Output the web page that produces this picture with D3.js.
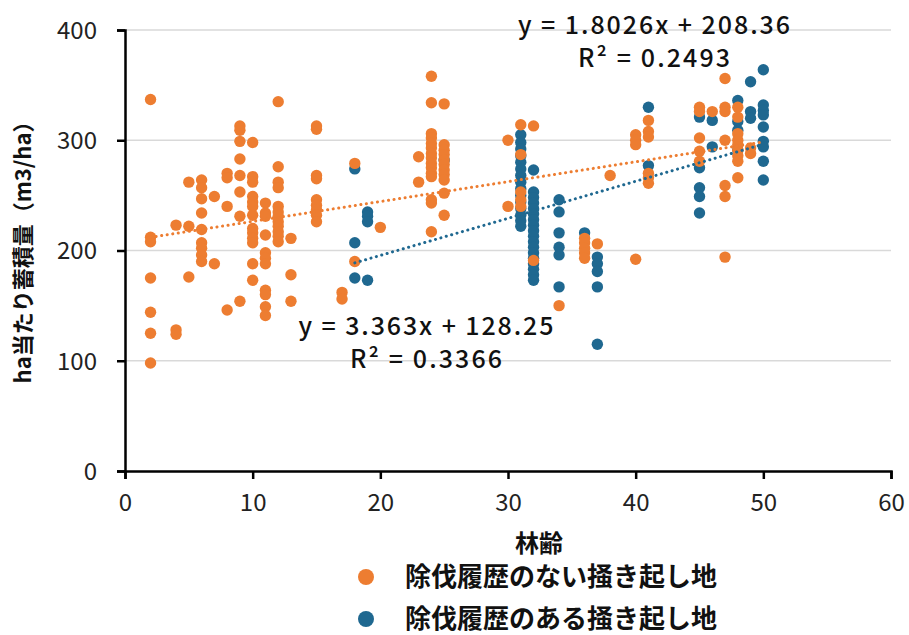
<!DOCTYPE html>
<html>
<head>
<meta charset="utf-8">
<script src="https://cdn.jsdelivr.net/npm/d3@7"></script>
<style>
  body { margin: 0; background: #fff; }
  svg text { font-family: "Noto Sans CJK JP", "Noto Sans", sans-serif; }
</style>
</head>
<body>
<div id="chart"></div>
<script>
// [林齢, 蓄積量...]
const noThinning = [
  [2, [337, 212, 208, 175, 144, 125, 98]],
  [4, [223, 128, 124]],
  [5, [262, 222, 176]],
  [6, [264, 257, 247, 234, 219, 207, 202, 196, 190]],
  [7, [249, 188]],
  [8, [270, 266, 240, 146]],
  [9, [313, 309, 299, 283, 268, 253, 231, 154]],
  [10, [298, 267, 262, 249, 244, 240, 232, 220, 216, 211, 207, 188, 173]],
  [11, [243, 234, 231, 214, 198, 193, 188, 164, 160, 149, 141]],
  [12, [335, 276, 262, 257, 240, 235, 231, 226, 222, 217, 213, 208]],
  [13, [211, 178, 154]],
  [15, [313, 310, 268, 265, 246, 241, 237, 232, 226]],
  [17, [162, 156]],
  [18, [279, 190]],
  [20, [221]],
  [23, [285, 262]],
  [24, [358, 334, 306, 302, 297, 293, 288, 284, 279, 275, 270, 267, 246, 243, 217]],
  [25, [333, 296, 291, 287, 282, 278, 273, 269, 264, 252, 232]],
  [30, [300, 240]],
  [31, [314, 287, 253, 246, 240]],
  [32, [313, 191]],
  [34, [150]],
  [36, [211, 207, 202, 198, 193]],
  [37, [206]],
  [38, [268]],
  [40, [305, 300, 296, 192]],
  [41, [318, 308, 303, 270, 266, 261]],
  [45, [330, 326, 302, 290, 281]],
  [46, [326]],
  [47, [356, 330, 326, 300, 259, 249, 194]],
  [48, [330, 321, 306, 300, 296, 291, 286, 281, 266]],
  [49, [293, 288]]
];

const withThinning = [
  [18, [274, 207, 175]],
  [19, [235, 231, 226, 173]],
  [25, [282]],
  [31, [305, 298, 292, 286, 280, 274, 268, 262, 256, 250, 244, 238, 232, 227, 222]],
  [32, [273, 253, 248, 243, 238, 233, 228, 223, 218, 213, 208, 203, 198, 193, 188, 183, 178, 173]],
  [34, [246, 235, 216, 203, 196, 167]],
  [36, [216]],
  [37, [194, 188, 181, 167, 115]],
  [41, [330, 277]],
  [45, [321, 275, 257, 249, 234]],
  [46, [318, 294]],
  [48, [336, 317, 309, 291]],
  [49, [353, 326, 320]],
  [50, [364, 332, 327, 323, 312, 299, 294, 281, 264]]
];

// 近似直線 [傾き, 切片, 開始, 終了]
const trendNo = [1.8026, 208.36, 2, 50];
const trendWith = [3.363, 128.25, 18, 50];

const xTicks = [0, 10, 20, 30, 40, 50, 60];
const yTicks = [0, 100, 200, 300, 400];

const legendLabels = ["除伐履歴のない掻き起し地", "除伐履歴のある掻き起し地"];
const eqLabels = [
  ["y = 1.8026x + 208.36", "R² = 0.2493"],
  ["y = 3.363x + 128.25", "R² = 0.3366"]
];

const colors = ["#ed7d31", "#1f6890"];

const width = 909, height = 635;
const svg = d3.select("#chart").append("svg")
  .attr("width", width)
  .attr("height", height);

const x = d3.scaleLinear().domain([0, 60]).range([125, 891]);
const y = d3.scaleLinear().domain([0, 400]).range([471, 30]);

// grid
svg.append("g")
  .selectAll("line")
  .data(yTicks.filter((d) => d > 0))
  .enter()
  .append("line")
  .attr("x1", x(0))
  .attr("x2", x(60))
  .attr("y1", (d) => y(d))
  .attr("y2", (d) => y(d))
  .attr("stroke", "#d9d9d9")
  .attr("stroke-width", 1.5);

// axes
const xAxis = svg.append("g")
  .attr("transform", `translate(0, ${y(0)})`)
  .call(d3.axisBottom(x).tickValues(xTicks).tickSize(8).tickPadding(18));

const yAxis = svg.append("g")
  .attr("transform", `translate(${x(0)}, 0)`)
  .call(d3.axisLeft(y).tickValues(yTicks).tickSize(8).tickPadding(20));

[xAxis, yAxis].forEach((g) => {
  g.select(".domain").attr("stroke", "#000").attr("stroke-width", 2.5);
  g.selectAll(".tick line").attr("stroke", "#000").attr("stroke-width", 2.5);
  g.selectAll(".tick text")
    .attr("fill", "#222")
    .style("font-size", "24px")
    .style("font-family", "'Noto Sans CJK JP', sans-serif");
});
yAxis.selectAll(".tick text").attr("dy", "0.35em");
xAxis.selectAll(".tick text").attr("dy", "0.6em");

// points
function flat(series) {
  const out = [];
  series.forEach(([age, vals]) => vals.forEach((v) => out.push({ age, v })));
  return out;
}

[[withThinning, colors[1]], [noThinning, colors[0]]].forEach(([series, c]) => {
  svg.append("g")
    .selectAll("circle")
    .data(flat(series))
    .enter()
    .append("circle")
    .attr("cx", (d) => x(d.age))
    .attr("cy", (d) => y(d.v))
    .attr("r", 5.7)
    .attr("fill", c);
});

// trend lines
[[trendNo, colors[0]], [trendWith, colors[1]]].forEach(([t, c]) => {
  const [a, b, x0, x1] = t;
  svg.append("line")
    .attr("x1", x(x0))
    .attr("y1", y(a * x0 + b))
    .attr("x2", x(x1))
    .attr("y2", y(a * x1 + b))
    .attr("stroke", c)
    .attr("stroke-width", 3)
    .attr("stroke-linecap", "round")
    .attr("stroke-dasharray", "0.1,5.5");
});

// equation labels
const eqPos = [[654, 25], [426, 326]];
const eqWidths = [[272, 152], [255, 152]];
eqLabels.forEach((lines, i) => {
  lines.forEach((t, j) => {
    svg.append("text")
      .attr("x", eqPos[i][0])
      .attr("y", eqPos[i][1] + j * 33)
      .attr("dy", "0.35em")
      .attr("text-anchor", "middle")
      .attr("textLength", eqWidths[i][j])
      .attr("lengthAdjust", "spacing")
      .style("font-size", "25px")
      .style("font-weight", 500)
      .attr("fill", "#111")
      .text(t);
  });
});

// axis titles
svg.append("text")
  .attr("x", 539)
  .attr("y", 544)
  .attr("dy", "0.35em")
  .attr("text-anchor", "middle")
  .style("font-size", "24px")
  .style("font-weight", 700)
  .attr("fill", "#111")
  .text("林齢");

svg.append("text")
  .attr("transform", "rotate(-90)")
  .attr("x", -247)
  .attr("y", 23)
  .attr("dy", "0.35em")
  .attr("text-anchor", "middle")
  .style("font-size", "22px")
  .style("font-weight", 700)
  .attr("fill", "#111")
  .text("ha当たり蓄積量（m3/ha）");

// legend
legendLabels.forEach((t, i) => {
  const ly = 577 + i * 42;
  svg.append("circle")
    .attr("cx", 366)
    .attr("cy", ly)
    .attr("r", 8)
    .attr("fill", colors[i]);
  svg.append("text")
    .attr("x", 405)
    .attr("y", ly)
    .attr("dy", "0.35em")
    .style("font-size", "26px")
    .style("font-weight", 700)
    .attr("fill", "#111")
    .text(t);
});
</script>
</body>
</html>
